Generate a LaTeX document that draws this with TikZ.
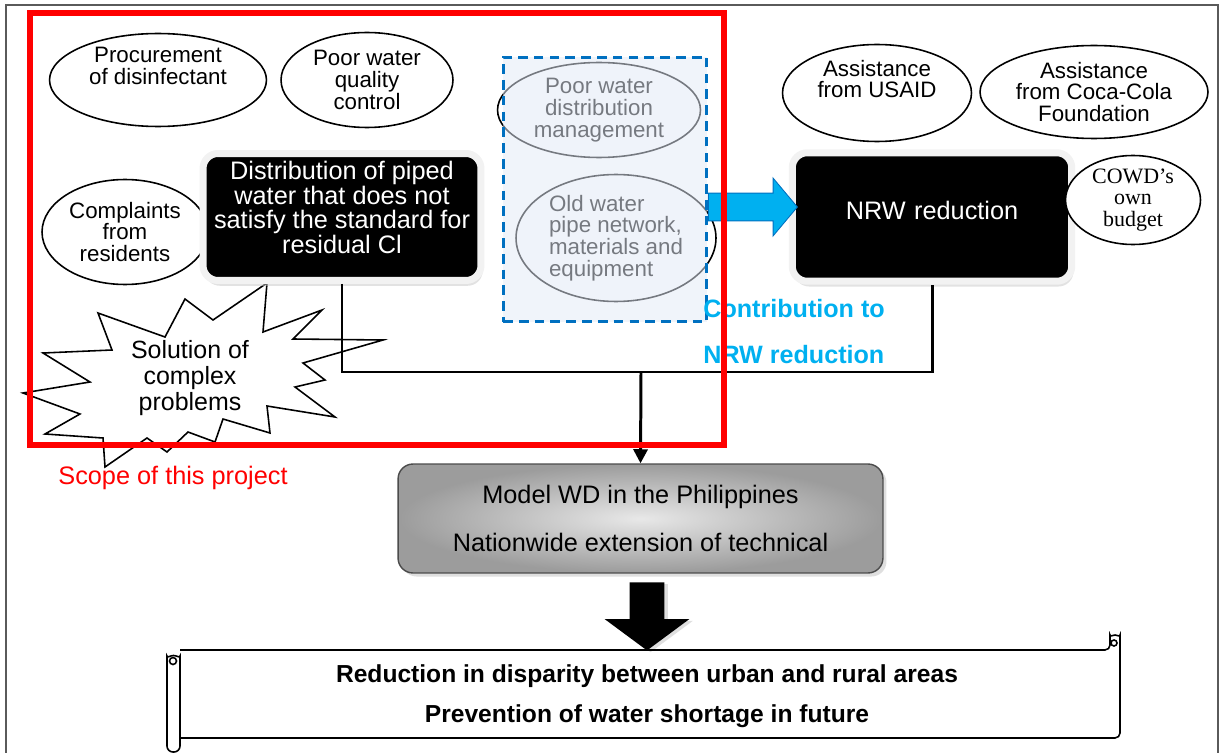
\documentclass[tikz,border=0pt]{standalone}
\usepackage{fontspec}
\setmainfont{Liberation Sans}
\newfontfamily\serifface{Liberation Serif}
\usetikzlibrary{positioning,shapes.geometric,shapes.arrows,shadows,arrows.meta}

\definecolor{scopered}{RGB}{255,0,0}
\definecolor{dashblue}{RGB}{0,112,192}
\definecolor{paleblue}{RGB}{226,233,246}
\definecolor{arrowcyan}{RGB}{0,176,240}
\definecolor{framegray}{RGB}{90,90,90}

\tikzset{
  idea/.style={ellipse, draw, line width=0.9pt, fill=white, inner sep=0pt,
    align=center, font=\fontsize{12.7}{12.4}\selectfont},
  darkbox/.style={rectangle, rounded corners=0.3cm, fill=black, draw=gray!10,
    line width=0.14cm, text=white, align=center, inner sep=0pt,
    font=\fontsize{14.4}{14.2}\selectfont,
    drop shadow={shadow xshift=1pt, shadow yshift=-3pt, fill=gray!45}},
  link/.style={line width=1.7pt},
  scroll/.style={line width=0.9pt},
}

\begin{document}
\begin{tikzpicture}[x=0.02cm, y=-0.02cm]
  \useasboundingbox (0,0) rectangle (1223,753);

  % outer frame
  \draw[framegray, line width=0.8pt] (6,5) rectangle (1218,770);

  % causes
  \node[idea, minimum width=4.34cm, minimum height=1.86cm] (proc) at (158,80)
    {Procurement\\of disinfectant\\\strut};
  \node[idea, minimum width=3.44cm, minimum height=1.90cm] (quality) at (367,80)
    {Poor water\\quality\\control};
  \node[idea, minimum width=3.32cm, minimum height=2.10cm] (complain) at (125,232)
    {Complaints\\from\\residents};

  % problem shared with NRW
  \node[idea, minimum width=4.06cm, minimum height=1.90cm] (pwdm) at (599,110)
    {Poor water\\distribution\\management};
  \node[idea, align=left, minimum width=4.0cm, minimum height=2.54cm] (oldpipe) at (616,238)
    {Old water\\pipe network,\\materials and\\equipment};
  \node[draw=dashblue, dash pattern=on 5.5pt off 3.5pt, line width=1.7pt,
    fill=paleblue, fill opacity=0.52, minimum width=4.08cm, minimum height=5.30cm]
    (zone) at (605,189.5) {};

  % supporters
  \node[idea, minimum width=3.78cm, minimum height=1.94cm] (usaid) at (877,93)
    {Assistance\\from USAID\\\strut};
  \node[idea, minimum width=4.56cm, minimum height=1.86cm] (coca) at (1094,92)
    {Assistance\\from Coca-Cola\\Foundation};

  % star
  \draw[fill=white, line width=0.9pt]
    (267,283) -- (263,332) -- (322,310) -- (293,339) -- (383,340) -- (303,363) --
    (325,380) -- (295,387) -- (335,417) -- (267,406) -- (270,433) -- (223,419) --
    (215,442) -- (188,432) -- (167,452) -- (147,438) -- (105,467) -- (103,438) --
    (45,434) -- (80,414) -- (23,393) -- (90,382) -- (43,353) -- (112,350) --
    (98,313) -- (165,337) -- (185,299) -- (213,320) -- cycle;
  \node[align=center, font=\fontsize{14.2}{15}\selectfont] (solve) at (190,378)
    {Solution of\\complex\\problems};

  % main boxes
  \node[darkbox, minimum width=5.56cm, minimum height=2.54cm, text depth=11pt] (dist) at (342,217)
    {Distribution of piped\\water that does not\\satisfy the standard for\\residual Cl};
  \node[darkbox, minimum width=5.59cm, minimum height=2.57cm, text depth=8pt] (nrw) at (932,217)
    {NRW\,\,reduction};
  \node[idea, font=\serifface\fontsize{12.5}{12.4}\selectfont,
    minimum width=2.70cm, minimum height=1.74cm] (cowd) at (1133,200)
    {COWD’s\\own\\budget};

  \node[rectangle, rounded corners=0.3cm, draw=gray!60!black, line width=0.8pt,
    inner color=gray!18, outer color=gray!78, align=center,
    font=\fontsize{14.4}{14.4}\selectfont, minimum width=9.70cm, minimum height=2.18cm,
    drop shadow={shadow xshift=2pt, shadow yshift=-2pt, fill=gray!50}]
    (model) at (640.5,518.5)
    {Model WD in the Philippines\\[12.9pt]Nationwide extension of technical};

  % connectors
  \coordinate (bus) at (641,372);
  \draw[link] (dist.south) |- (bus) -| (nrw.south);
  \draw[link, -{Triangle[width=8pt,length=8pt]}] (bus) -- (model.north);

  \node[single arrow, fill=arrowcyan, draw=dashblue, line width=0.5pt,
    minimum height=1.78cm, inner sep=0.27cm, single arrow head extend=0.3cm,
    single arrow tip angle=100] (push) at (747,207) {};

  \node[anchor=west, inner sep=0pt, text=arrowcyan,
    font=\bfseries\fontsize{14.3}{14}\selectfont] (contrib) at (703,309) {Contribution to};
  \node[anchor=west, inner sep=0pt, text=arrowcyan,
    font=\bfseries\fontsize{14.3}{14}\selectfont] (contribb) at (703,355) {NRW reduction};

  % scope of project
  \draw[scopered, line width=3.4pt] (30,13) rectangle (724,445);
  \node[text=scopered, font=\fontsize{14.4}{14}\selectfont] (scope) at (173,478)
    {Scope of this project};

  % down arrow
  \node[single arrow, shape border rotate=270, fill=black, minimum height=1.36cm,
    inner sep=0.34cm, single arrow head extend=0.5cm, single arrow tip angle=107,
    drop shadow={shadow xshift=2pt, shadow yshift=-1pt, fill=gray!50}]
    (down) at (647,610) {};

  % scroll
  \draw[scroll, rounded corners=0.1cm] (180,650) -- (1110,650) -- (1110,640)
    arc[start angle=180, end angle=360, radius=5] -- (1120,738) -- (180,738);
  \draw[scroll] (1114,643) circle[radius=3];
  \draw[scroll, rounded corners=0.12cm] (167,662)
    arc[start angle=180, end angle=360, radius=6.5] -- (180,752) -- (167,752) -- cycle;
  \draw[scroll] (173,661) circle[radius=3.5];
  \node[align=center, font=\bfseries\fontsize{14}{14}\selectfont] (goal) at (647,696)
    {Reduction in disparity between urban and rural areas\\[8.8pt]Prevention of water shortage in future};
\end{tikzpicture}
\end{document}
